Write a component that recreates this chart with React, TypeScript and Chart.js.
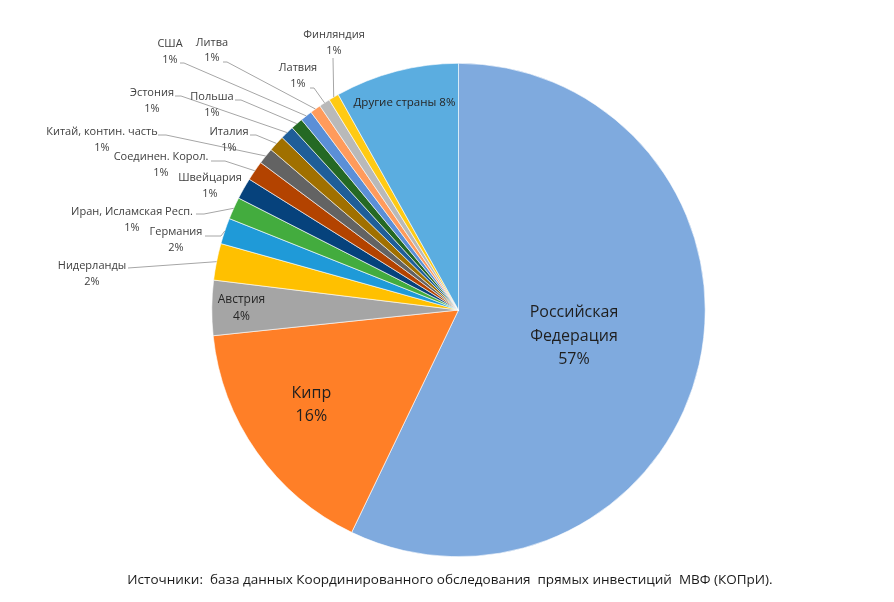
import React, { useEffect, useRef } from "react";
import { Chart, registerables } from "chart.js";

Chart.register(...registerables);

const countries = [
  "Российская Федерация",
  "Кипр",
  "Австрия",
  "Нидерланды",
  "Германия",
  "Иран, Исламская Респ.",
  "Швейцария",
  "Соединен. Корол.",
  "Китай, контин. часть",
  "Италия",
  "Эстония",
  "Польша",
  "США",
  "Литва",
  "Латвия",
  "Финляндия",
  "Другие страны",
];

const shares = [57.1, 16.2, 3.6, 2.4, 1.7, 1.45, 1.4, 1.3, 1.07, 1.06, 0.9, 0.8, 0.78, 0.7, 0.72, 0.67, 8.1];

const sliceColors = [
  "#7FAADE",
  "#FF7F27",
  "#A5A5A5",
  "#FFC000",
  "#1F9AD8",
  "#43AC3E",
  "#06427C",
  "#B34300",
  "#636363",
  "#A07000",
  "#1F5E98",
  "#256924",
  "#5B8FD7",
  "#FF9B5C",
  "#B9B9B9",
  "#FFCA14",
  "#5BADE0",
];

const sourceText = "Источники:  база данных Координированного обследования  прямых инвестиций  МВФ (КОПрИ).";

// label layout (annotation placement only)
type InLabel = { kind: "in"; lines: string[]; size: number; rFrac: number; lh: number; nudge?: number };
type OutLabel = {
  kind: "out";
  x: number;
  y: number;
  lh: number;
  anchor?: [number, number];
  elbow?: number;
};
type Label = InLabel | OutLabel;

const FONT = '"Open Sans", "Noto Sans", sans-serif';

function pctText(i: number) {
  const total = shares.reduce((a, b) => a + b, 0);
  return Math.round((shares[i] / total) * 100) + "%";
}

const labelLayout: Label[] = [
  { kind: "in", lines: ["Российская", "Федерация", "%"], size: 16, rFrac: 0.48, lh: 23.5 },
  { kind: "in", lines: ["Кипр", "%"], size: 16, rFrac: 0.71, lh: 23, nudge: 0.04 },
  { kind: "in", lines: ["Австрия", "%"], size: 12, rFrac: 0.88, lh: 17 },
  { kind: "out", x: 92, y: 266, lh: 16, anchor: [128, 268], elbow: 0 },
  { kind: "out", x: 176, y: 232, lh: 16, anchor: [205, 236], elbow: 16 },
  { kind: "out", x: 132, y: 212, lh: 16, anchor: [196, 214], elbow: 8 },
  { kind: "out", x: 210, y: 178, lh: 16 },
  { kind: "out", x: 161, y: 157, lh: 15.5, anchor: [211, 161], elbow: 14 },
  { kind: "out", x: 102, y: 132, lh: 15.5, anchor: [158, 135], elbow: 8 },
  { kind: "out", x: 229, y: 132, lh: 15.5, anchor: [250, 135], elbow: 6 },
  { kind: "out", x: 152, y: 93, lh: 15.5, anchor: [175, 96], elbow: 6 },
  { kind: "out", x: 212, y: 97, lh: 15.5, anchor: [235, 100], elbow: 6 },
  { kind: "out", x: 170, y: 44, lh: 16, anchor: [180, 63], elbow: 4 },
  { kind: "out", x: 212, y: 43, lh: 15, anchor: [223, 62], elbow: 4 },
  { kind: "out", x: 298, y: 68, lh: 15.5, anchor: [310, 88], elbow: 4 },
  { kind: "out", x: 334, y: 35, lh: 15.5, anchor: [333, 58], elbow: 0 },
  { kind: "in", lines: ["Другие страны %"], size: 11.5, rFrac: 0.87, lh: 16 },
];

const labelsPlugin = {
  id: "sliceLabels",
  afterDraw(chart: any) {
    const ctx: CanvasRenderingContext2D = chart.ctx;
    const meta = chart.getDatasetMeta(0);
    ctx.save();
    meta.data.forEach((arc: any, i: number) => {
      const p = arc.getProps(["x", "y", "startAngle", "endAngle", "outerRadius"], true);
      const mid = (p.startAngle + p.endAngle) / 2;
      const lay = labelLayout[i];
      const pct = pctText(i);
      ctx.textAlign = "center";
      ctx.textBaseline = "middle";
      if (lay.kind === "in") {
        const a = mid + (lay.nudge || 0);
        const cx = p.x + Math.cos(a) * p.outerRadius * lay.rFrac;
        const cy = p.y + Math.sin(a) * p.outerRadius * lay.rFrac;
        const lines = lay.lines.map((l) => l.replace("%", pct));
        ctx.font = `${lay.size}px ${FONT}`;
        ctx.fillStyle = lay.size > 13 ? "#1F1F1F" : "#262626";
        const n = lines.length;
        lines.forEach((l, k) => {
          ctx.fillText(l, cx, cy + (k - (n - 1) / 2) * lay.lh);
        });
      } else {
        const ex = p.x + Math.cos(mid) * p.outerRadius;
        const ey = p.y + Math.sin(mid) * p.outerRadius;
        if (lay.anchor) {
          ctx.strokeStyle = "#A6A6A6";
          ctx.lineWidth = 1;
          ctx.beginPath();
          ctx.moveTo(lay.anchor[0], lay.anchor[1]);
          if (lay.elbow) ctx.lineTo(lay.anchor[0] + lay.elbow, lay.anchor[1]);
          ctx.lineTo(ex, ey);
          ctx.stroke();
        }
        ctx.font = `11px ${FONT}`;
        ctx.fillStyle = "#404040";
        ctx.fillText(countries[i], lay.x, lay.y);
        ctx.fillText(pct, lay.x, lay.y + lay.lh);
      }
    });
    ctx.font = `13.5px ${FONT}`;
    ctx.fillStyle = "#1A1A1A";
    ctx.textAlign = "center";
    ctx.textBaseline = "middle";
    ctx.fillText(sourceText, 450, 580);
    ctx.restore();
  },
};

export default function App() {
  const ref = useRef<HTMLCanvasElement | null>(null);
  useEffect(() => {
    document.body.style.margin = "0";
    if (!ref.current) return;
    const chart = new Chart(ref.current, {
      type: "pie",
      data: {
        labels: countries,
        datasets: [
          {
            data: shares,
            backgroundColor: sliceColors,
            borderColor: "#FFFFFF",
            borderWidth: 0.6,
          },
        ],
      },
      options: {
        animation: false,
        responsive: false,
        rotation: 0,
        layout: { padding: { top: 63, bottom: 45, left: 158.5, right: 135.5 } },
        plugins: {
          legend: { display: false },
          tooltip: { enabled: false },
          title: { display: false },
        },
      },
      plugins: [labelsPlugin],
    });
    return () => chart.destroy();
  }, []);
  return (
    <div style={{ width: 894, height: 602, background: "#fff" }}>
      <canvas ref={ref} width={894} height={602} />
    </div>
  );
}
